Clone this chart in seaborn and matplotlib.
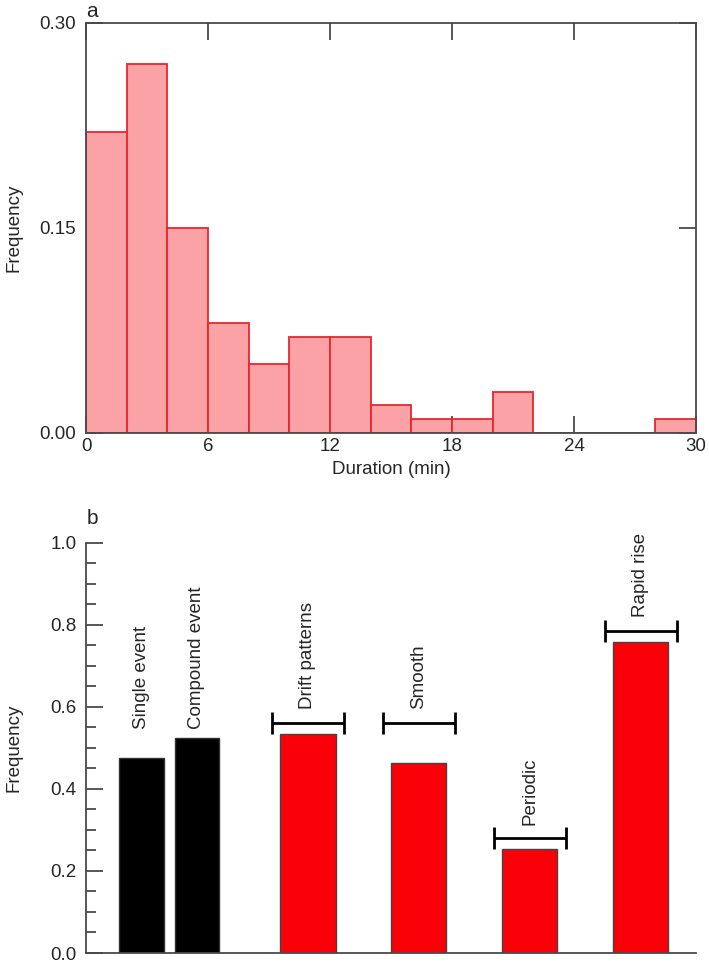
import numpy as np
import matplotlib
matplotlib.use("Agg")
import matplotlib.pyplot as plt
import seaborn as sns
from matplotlib.ticker import MultipleLocator

# Datos del panel a: histograma de duración (bins de 2 min)
bin_edges = [0, 2, 4, 6, 8, 10, 12, 14, 16, 18, 20, 22, 24, 26, 28, 30]
bin_freq = [0.22, 0.27, 0.15, 0.08, 0.05, 0.07, 0.07, 0.02, 0.01, 0.01, 0.03, 0.0, 0.0, 0.0, 0.01]

# Datos del panel b
black_labels = ["Single event", "Compound event"]
black_values = [0.476, 0.525]
red_labels = ["Drift patterns", "Smooth", "Periodic", "Rapid rise"]
red_values = [0.534, 0.464, 0.253, 0.757]
red_brackets = [0.561, 0.561, 0.280, 0.785]

black_pos = [0.0, 0.5]
red_pos = [1.5, 2.5, 3.5, 4.5]

sns.set_style("ticks")
plt.rcParams["font.family"] = ["Liberation Sans", "DejaVu Sans"]
plt.rcParams["font.size"] = 13.5

fig = plt.figure(figsize=(7.09, 9.64), dpi=100)
ax1 = fig.add_axes([0.1213, 0.5511, 0.8604, 0.4254])
ax2 = fig.add_axes([0.1213, 0.0114, 0.8604, 0.4256])

spine_col = "#4a4a4a"

# ---- Panel a ----
centers = [(bin_edges[i] + bin_edges[i + 1]) / 2 for i in range(len(bin_freq))]
sns.histplot(x=centers, weights=bin_freq, bins=bin_edges, stat="count",
             color="#fba2a7", edgecolor="#e8262e", linewidth=1.3, alpha=1, ax=ax1)
ax1.set_xlim(0, 30)
ax1.set_ylim(0, 0.30)
ax1.set_xticks([0, 6, 12, 18, 24, 30])
ax1.set_yticks([0.0, 0.15, 0.30])
ax1.set_yticklabels(["0.00", "0.15", "0.30"])
ax1.tick_params(direction="in", length=12, width=1.3, color=spine_col,
                top=True, right=True, labelsize=13.5)
ax1.tick_params(axis="y", pad=7)
ax1.tick_params(axis="x", pad=4)
for s in ax1.spines.values():
    s.set_visible(True)
    s.set_color(spine_col)
    s.set_linewidth(1.3)
ax1.set_xlabel("Duration (min)", fontsize=13.5, labelpad=4)
ax1.set_ylabel("Frequency", fontsize=13.5)
ax1.yaxis.set_label_coords(-0.104, 0.5)
fig.text(0.122, 0.988, "a", fontsize=15, ha="left", va="center")

# ---- Panel b ----
sns.barplot(x=black_pos, y=black_values, native_scale=True, width=0.8,
            color="black", edgecolor="#333333", linewidth=1, ax=ax2)
sns.barplot(x=red_pos, y=red_values, native_scale=True, width=0.5,
            color="#fa0008", saturation=1, edgecolor="#444444", linewidth=1, ax=ax2)

ax2.errorbar(red_pos, red_brackets, xerr=0.325, fmt="none", ecolor="black",
             elinewidth=2, capsize=8, capthick=2)

label_base = max(black_values) + 0.02
for x, lab in zip(black_pos, black_labels):
    ax2.text(x, label_base, lab, rotation=90, ha="center", va="bottom",
             fontsize=13.5, clip_on=False)
for x, y, lab in zip(red_pos, red_brackets, red_labels):
    ax2.text(x, y + 0.033, lab, rotation=90, ha="center", va="bottom",
             fontsize=13.5, clip_on=False)

ax2.set_xlim(-0.5, 5.0)
ax2.set_ylim(0, 1.0)
ax2.set_xticks([])
ax2.yaxis.set_major_locator(MultipleLocator(0.2))
ax2.yaxis.set_minor_locator(MultipleLocator(0.05))
ax2.set_yticklabels([f"{v:.1f}" for v in ax2.get_yticks()])
ax2.tick_params(axis="y", which="major", direction="in", length=12, width=1.3,
                color=spine_col, labelsize=13.5, pad=7)
ax2.tick_params(axis="y", which="minor", direction="in", length=7, width=1.3,
                color=spine_col)
sns.despine(ax=ax2, top=True, right=True)
for s in ["left", "bottom"]:
    ax2.spines[s].set_color(spine_col)
    ax2.spines[s].set_linewidth(1.3)
ax2.set_xlabel("")
ax2.set_ylabel("Frequency", fontsize=13.5)
ax2.yaxis.set_label_coords(-0.104, 0.5)
fig.text(0.122, 0.462, "b", fontsize=15, ha="left", va="center")

fig.savefig("out.png", dpi=100)
